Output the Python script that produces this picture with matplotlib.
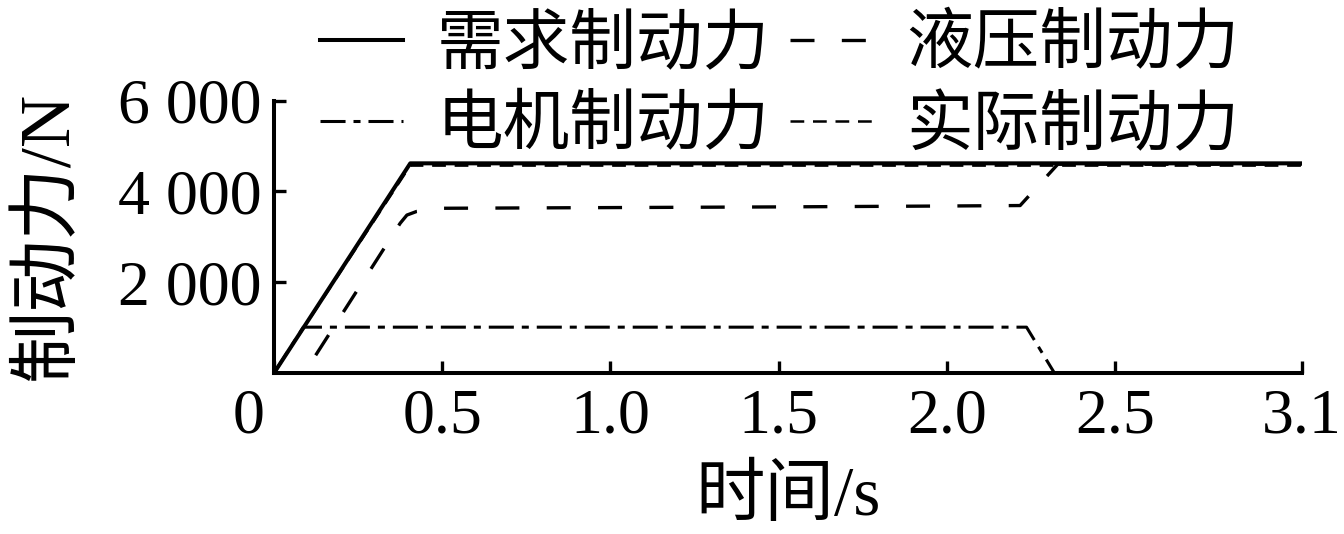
import matplotlib
matplotlib.use('Agg')
import matplotlib.pyplot as plt
from matplotlib.transforms import ScaledTranslation

plt.rcParams['font.family'] = ['Liberation Serif', 'Noto Sans CJK SC']

# 需求制动力 (demand)
t_demand = [0, 0.405, 3.055]
f_demand = [0, 4620, 4620]
# 电机制动力 (motor)
t_motor = [0, 0.087, 2.237, 2.32]
f_motor = [0, 1010, 1010, 0]
# 液压制动力 (hydraulic)
t_hyd = [0, 0.09, 0.375, 0.395, 0.424, 0.5, 1.0, 1.5, 2.0, 2.218, 2.33, 3.055]
f_hyd = [0, 0, 3300, 3480, 3560, 3630, 3645, 3660, 3680, 3690, 4600, 4600]
# 实际制动力 (actual)
t_act = [0, 0.405, 3.055]
f_act = [0, 4570, 4570]

x_ticks = [0, 0.5, 1.0, 1.5, 2.0, 2.5, 3.055]
x_labels = ['0', '0.5', '1.0', '1.5', '2.0', '2.5', '3.1']
y_ticks = [2000, 4000, 6000]
y_labels = ['2 000', '4 000', '6 000']

fig = plt.figure(figsize=(13.44, 5.34), dpi=100)
ax = fig.add_axes([0.2039, 0.3015, 0.7646, 0.5099])

l_act, = ax.plot(t_act, f_act, color='black', lw=1.8, dashes=(5.5, 3.5), label='实际制动力')
l_hyd, = ax.plot(t_hyd, f_hyd, color='black', lw=2.4, dashes=(7.2, 8.2), label='液压制动力')
l_mot, = ax.plot(t_motor, f_motor, color='black', lw=2.2, dashes=(8.2, 2.6, 2.3, 2.6), label='电机制动力')
l_dem, = ax.plot(t_demand, f_demand, color='black', lw=2.9, label='需求制动力')

ax.set_xlim(0, 3.055)
ax.set_ylim(0, 6000)
ax.set_xticks(x_ticks)
ax.set_xticklabels(x_labels)
ax.set_yticks(y_ticks)
ax.set_yticklabels(y_labels)

for s in ['top', 'right']:
    ax.spines[s].set_visible(False)
for s in ['left', 'bottom']:
    ax.spines[s].set_linewidth(2.9)

ax.tick_params(axis='both', direction='in', length=8.5, width=2.4, labelsize=46)
ax.tick_params(axis='x', pad=11)
ax.tick_params(axis='y', pad=9)

lbl0 = ax.get_xticklabels()[0]
lbl0.set_transform(lbl0.get_transform() + ScaledTranslation(-0.25, 0, fig.dpi_scale_trans))

ax.set_xlabel('时间/s', fontsize=50, labelpad=14)
ax.set_ylabel('制动力/N', fontsize=52, labelpad=26)

fig.legend(handles=[l_dem, l_mot, l_hyd, l_act], ncol=2, loc='upper left',
           bbox_to_anchor=(0.238, 0.972), frameon=False, fontsize=48,
           handlelength=1.25, handletextpad=0.5, columnspacing=0.3,
           labelspacing=0.29, borderpad=0, borderaxespad=0)

fig.savefig('out.png', dpi=100)
